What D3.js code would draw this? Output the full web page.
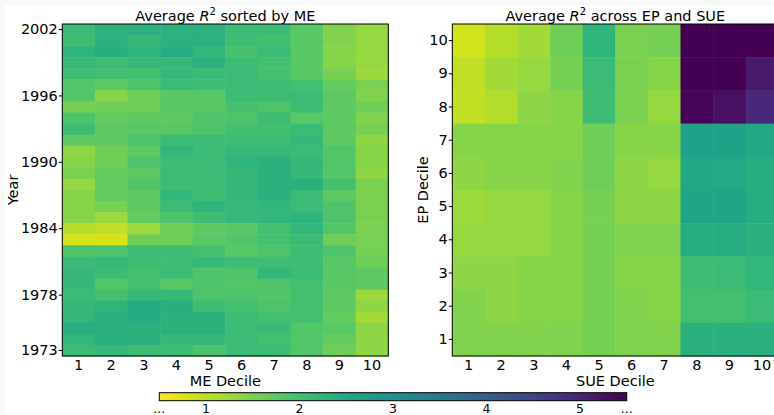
<!DOCTYPE html>
<meta charset="utf-8">
<style>
    body { margin: 0; background: #f8f8f8; }
    svg { display: block; }
    text { font-family: "DejaVu Sans", sans-serif; fill: #000; }
    .tick text { font-size: 14.5px; }
    .axis path { display: none; }
    .axis line { stroke: #000; }
</style>
<script src="https://d3js.org/d3.v7.min.js"></script>
<svg width="774" height="415"></svg>
<script>
    // deciles 1..10
    let deciles = d3.range(1, 11);
    // years shown top (2002) to bottom (1973)
    let years = d3.range(2002, 1972, -1);
    let yearTicks = [2002, 1996, 1990, 1984, 1978, 1973];
    let cbarTicks = [1, 2, 3, 4, 5];

    // average R^2 by ME decile, one row per year, 2002 first
    let meValues = [
        [2.1, 2.3, 2.3, 2.3, 2.3, 2.1, 2.1, 1.8, 1.45, 1.3],
        [2.05, 2.3, 2.15, 2.3, 2.3, 2.05, 2.0, 1.8, 1.45, 1.3],
        [2.25, 2.35, 2.25, 2.4, 2.2, 1.95, 2.1, 1.8, 1.4, 1.3],
        [2.15, 2.05, 2.15, 2.15, 2.3, 2.1, 2.0, 1.8, 1.4, 1.3],
        [2.05, 2.0, 2.0, 2.15, 2.1, 2.1, 2.0, 1.8, 1.55, 1.25],
        [1.85, 1.75, 1.9, 2.1, 2.05, 2.1, 2.05, 2.0, 1.7, 1.5],
        [1.85, 1.4, 1.6, 1.8, 1.8, 2.1, 2.05, 2.1, 1.75, 1.45],
        [1.55, 1.6, 1.6, 1.8, 1.8, 1.95, 1.9, 2.05, 1.75, 1.6],
        [1.9, 1.7, 1.75, 1.75, 1.9, 1.9, 2.05, 1.8, 1.75, 1.45],
        [2.05, 1.75, 1.8, 1.8, 1.9, 2.0, 2.0, 2.1, 1.75, 1.55],
        [1.75, 1.75, 1.9, 2.1, 2.05, 2.05, 2.05, 2.15, 1.75, 1.35],
        [1.35, 1.6, 1.75, 2.2, 2.1, 2.15, 2.15, 2.1, 1.85, 1.4],
        [1.4, 1.6, 1.9, 2.05, 2.1, 2.25, 2.3, 2.15, 1.85, 1.4],
        [1.5, 1.7, 1.75, 2.05, 2.1, 2.15, 2.3, 2.15, 1.85, 1.35],
        [1.3, 1.7, 1.85, 2.05, 2.1, 2.15, 2.3, 2.3, 2.0, 1.5],
        [1.4, 1.7, 1.75, 2.2, 2.05, 2.15, 2.3, 2.1, 1.75, 1.5],
        [1.4, 1.55, 1.75, 2.05, 2.25, 2.15, 2.2, 2.1, 1.9, 1.5],
        [1.4, 1.25, 1.7, 1.9, 2.05, 2.15, 2.2, 2.25, 1.9, 1.5],
        [1.05, 0.98, 1.25, 1.6, 1.75, 1.8, 2.0, 2.2, 1.85, 1.5],
        [0.85, 0.8, 1.6, 1.6, 1.8, 1.85, 2.0, 2.1, 1.6, 1.55],
        [1.9, 1.9, 2.05, 2.05, 2.0, 1.8, 1.9, 2.05, 1.9, 1.55],
        [2.1, 2.15, 2.05, 2.05, 2.15, 2.05, 2.05, 2.05, 1.8, 1.6],
        [2.15, 2.1, 2.0, 2.1, 1.9, 1.9, 2.2, 2.1, 1.8, 1.75],
        [2.15, 1.85, 2.0, 1.8, 1.9, 1.85, 1.9, 2.0, 1.8, 1.75],
        [2.1, 2.0, 2.15, 2.15, 1.9, 1.9, 1.85, 2.0, 1.75, 1.25],
        [2.15, 2.25, 2.45, 2.35, 2.05, 2.0, 1.9, 2.0, 1.75, 1.35],
        [2.2, 2.3, 2.45, 2.3, 2.3, 2.05, 2.0, 2.0, 1.7, 1.2],
        [2.35, 2.35, 2.3, 2.3, 2.3, 2.1, 2.1, 1.85, 1.8, 1.35],
        [2.2, 2.3, 2.3, 2.15, 2.15, 2.1, 2.0, 1.85, 1.7, 1.35],
        [2.1, 2.15, 2.05, 2.1, 1.9, 2.1, 2.05, 1.85, 1.6, 1.35]
    ];

    // average R^2 by EP decile (rows, 10 first) and SUE decile (columns)
    let epRows = d3.range(10, 0, -1);
    let epSueValues = [
        [0.85, 1.05, 1.2, 1.6, 2.25, 1.5, 1.55, 5.5, 5.5, 5.5],
        [0.98, 1.2, 1.3, 1.55, 2.1, 1.5, 1.4, 5.5, 5.5, 5.15],
        [0.95, 1.07, 1.35, 1.4, 2.05, 1.5, 1.3, 5.45, 5.3, 4.95],
        [1.4, 1.4, 1.4, 1.4, 1.6, 1.4, 1.4, 2.62, 2.62, 2.5],
        [1.35, 1.4, 1.4, 1.45, 1.6, 1.35, 1.3, 2.5, 2.48, 2.38],
        [1.25, 1.3, 1.3, 1.4, 1.55, 1.35, 1.35, 2.55, 2.57, 2.4],
        [1.3, 1.3, 1.3, 1.4, 1.55, 1.45, 1.45, 2.4, 2.38, 2.3],
        [1.35, 1.35, 1.4, 1.4, 1.55, 1.4, 1.4, 2.05, 2.1, 2.2],
        [1.45, 1.35, 1.4, 1.4, 1.55, 1.45, 1.4, 2.0, 2.0, 2.1],
        [1.45, 1.45, 1.45, 1.47, 1.55, 1.47, 1.45, 2.3, 2.3, 2.3]
    ];

    let svg = d3.select("svg");
    svg.append("rect").attr("x", 5).attr("y", 5).attr("width", 769).attr("height", 410).attr("fill", "#fff");

    let vmin = 0.5, vmax = 5.5;
    let color = d3.scaleSequential(function(t) { return d3.interpolateViridis(1 - t); }).domain([vmin, vmax]).clamp(true);

    let plotTop = 24, plotBottom = 356;

    function heatmap(x0, rows, values, ticks, title, xlabel, ylabel, ylabelX) {
        let x = d3.scaleBand().domain(deciles).range([x0, x0 + 326]);
        let y = d3.scaleBand().domain(rows).range([plotTop, plotBottom]);
        let g = svg.append("g");

        values.forEach(function(row, i) {
            g.selectAll(null)
                .data(row)
                .enter().append("rect")
                .attr("x", function(d, j) { return x(deciles[j]); })
                .attr("y", y(rows[i]))
                .attr("width", x.bandwidth() + 0.5)
                .attr("height", y.bandwidth() + 0.5)
                .attr("fill", function(d) { return color(d); });
        });

        g.append("rect")
            .attr("x", x0).attr("y", plotTop)
            .attr("width", 326).attr("height", plotBottom - plotTop)
            .attr("fill", "none").attr("stroke", "#000").attr("stroke-width", 1);

        g.append("g").attr("class", "axis")
            .attr("transform", "translate(" + x0 + ",0)")
            .call(d3.axisLeft(y).tickValues(ticks).tickSize(3.5).tickPadding(1));

        g.append("g").attr("class", "axis")
            .attr("transform", "translate(0," + plotBottom + ")")
            .call(d3.axisBottom(x).tickSize(0).tickPadding(3.5));

        let t = g.append("text")
            .attr("x", x0 + 163).attr("y", 20.5)
            .attr("text-anchor", "middle").style("font-size", "14.5px");
        t.append("tspan").text("Average ");
        t.append("tspan").style("font-style", "italic").text("R");
        t.append("tspan").attr("dy", -5.5).style("font-size", "10px").text("2");
        t.append("tspan").attr("dy", 5.5).text(" " + title);

        g.append("text")
            .attr("x", x0 + 163).attr("y", 385.5)
            .attr("text-anchor", "middle").style("font-size", "14.5px")
            .text(xlabel);

        g.append("text")
            .attr("transform", "translate(" + ylabelX + "," + ((plotTop + plotBottom) / 2) + ") rotate(-90)")
            .attr("text-anchor", "middle").style("font-size", "14.5px")
            .text(ylabel);
    }

    heatmap(62.3, years, meValues, yearTicks, "sorted by ME", "ME Decile", "Year", 18);
    heatmap(452.3, epRows, epSueValues, epRows, "across EP and SUE", "SUE Decile", "EP Decile", 428);

    // colorbar
    let cb = { x0: 159.3, x1: 626.7, y: 392.7, h: 8 };
    let cx = d3.scaleLinear().domain([vmin, vmax]).range([cb.x0, cb.x1]);
    let grad = svg.append("defs").append("linearGradient").attr("id", "cbar");
    d3.range(0, 1.0001, 0.05).forEach(function(t) {
        grad.append("stop").attr("offset", t).attr("stop-color", color(vmin + t * (vmax - vmin)));
    });
    svg.append("rect")
        .attr("x", cb.x0).attr("y", cb.y)
        .attr("width", cb.x1 - cb.x0).attr("height", cb.h)
        .attr("fill", "url(#cbar)").attr("stroke", "#000").attr("stroke-width", 1);

    svg.selectAll(".cbtick")
        .data(cbarTicks)
        .enter().append("text")
        .attr("x", function(d) { return cx(d); })
        .attr("y", 413)
        .attr("text-anchor", "middle").style("font-size", "12.5px")
        .text(function(d) { return d; });

    svg.selectAll(".cbend")
        .data([vmin, vmax])
        .enter().append("text")
        .attr("x", function(d) { return cx(d); })
        .attr("y", 412.5)
        .attr("text-anchor", "middle").style("font-size", "12.5px")
        .text("...");
</script>
